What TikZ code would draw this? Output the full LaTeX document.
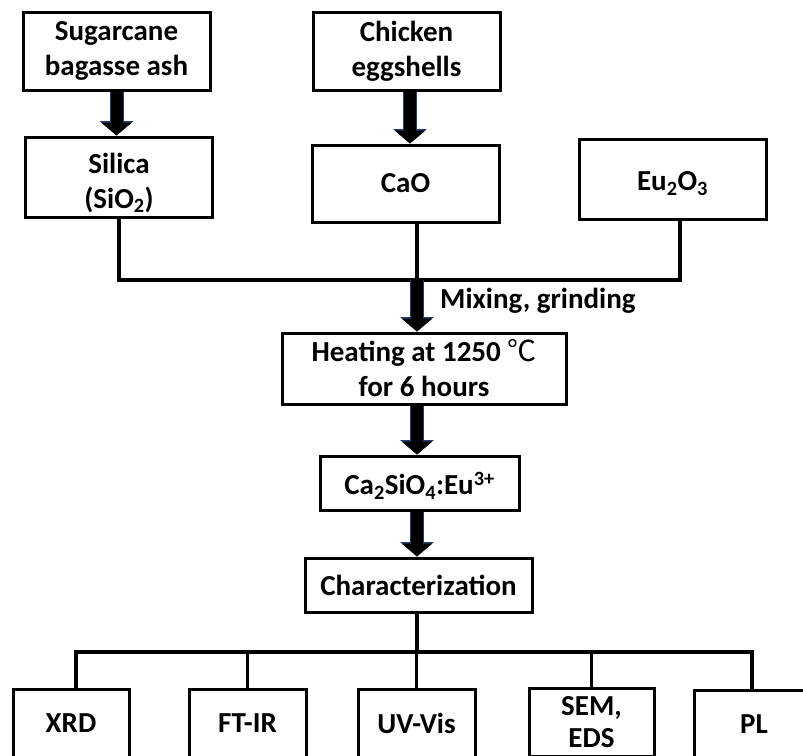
\documentclass[tikz,border=0pt]{standalone}
\usepackage{fontspec}
\setmainfont{Carlito}
\newfontfamily\cjk{Noto Sans CJK SC}
\usetikzlibrary{arrows.meta}
\definecolor{arrowedge}{RGB}{40,62,112}
\newcommand\topstrut[1]{\rule{0pt}{#1}}
\tikzset{
box/.style = {draw, line width = 3pt, align = center, inner sep = 0pt, font = \bfseries\fontsize{29}{35}\selectfont},
steptext/.style = {inner sep = 0pt, font = \bfseries\fontsize{29}{35}\selectfont},
bus/.style = {line width = 3.5pt},
fatarrow/.style = {line width = 12pt, -{Triangle[length=13pt,width=30pt]},
  preaction = {draw = arrowedge, line width = 14pt, -{Triangle[length=14.5pt,width=33pt]}}}}

\begin{document}
\begin{tikzpicture}[x=1pt, y=-1pt]
%
\clip (0,0) rectangle (803,755);
\fill[white] (0,0) rectangle (803,755);
%
%''''''''''''''''''''''''''''raw materials''''''''''''''''''''''''''''''''''''''''''''''''''''''''''''''
\node[box, minimum width=187pt, minimum height=78pt] (sugar) at (116.5,51) {Sugarcane\\bagasse ash};
\node[box, minimum width=187pt, minimum height=78pt] (chicken) at (406.5,51) {Chicken\\eggshells};
%
\node[box, minimum width=187pt, minimum height=80pt] (silica) at (119,177) {\topstrut{32pt}Silica\\(SiO\textsubscript{2})};
\node[box, minimum width=187pt, minimum height=77pt] (cao) at (405.5,183.5) {CaO};
\node[box, minimum width=187pt, minimum height=80pt] (eu) at (672.5,179.5) {\topstrut{27pt}Eu\textsubscript{2}O\textsubscript{3}};
%
\draw[fatarrow] (sugar.south) -- (sugar.south |- silica.north);
\draw[fatarrow] ([xshift=3.5pt]chicken.south) -- ([xshift=3.5pt]chicken.south |- cao.north);
%
% collecting line
\coordinate (mix) at (417,280);
\draw[bus] (silica.south) -- (silica.south |- mix) -- ([xshift=7.5pt]eu.south |- mix) -- ([xshift=7.5pt]eu.south);
\draw[bus] (mix |- cao.south) -- (mix);
%
%''''''''''''''''''''''''''''synthesis''''''''''''''''''''''''''''''''''''''''''''''''''''''''''''''''''
\node[box, minimum width=284pt, minimum height=71pt] (heat) at (424,368.5) {Heating at 1250 {\cjk\mdseries ℃}\\for 6 hours};
\node[box, minimum width=199pt, minimum height=54pt] (prod) at (419.5,483) {\topstrut{28pt}Ca\textsubscript{2}SiO\textsubscript{4}:Eu\textsuperscript{3+}};
\node[box, minimum width=227pt, minimum height=54pt] (char) at (418.5,585) {Characterization};
%
\draw[fatarrow] (mix) -- (mix |- heat.north);
\node[steptext, anchor=west] (mixing) at (440,301) {Mixing, grinding};
\draw[fatarrow] (mix |- heat.south) -- (mix |- prod.north);
\draw[fatarrow] (mix |- prod.south) -- (mix |- char.north);
%
%''''''''''''''''''''''''''''characterization methods'''''''''''''''''''''''''''''''''''''''''''''''''''
\coordinate (split) at (417,652);
\node[box, minimum width=116pt, minimum height=68pt] (xrd) at (71,723) {XRD};
\node[box, minimum width=117pt, minimum height=68pt] (ftir) at (247.5,723) {FT-IR};
\node[box, minimum width=117pt, minimum height=68pt] (uvvis) at (416.5,723) {UV-Vis};
\node[box, minimum width=125pt, minimum height=68pt, font=\bfseries\fontsize{29}{32}\selectfont] (sem) at (591.5,722) {SEM,\\EDS};
\node[box, minimum width=120pt, minimum height=68pt] (pl) at (754,724) {PL};
%
\draw[bus] (mix |- char.south) -- (split);
\draw[bus] ([xshift=5pt]xrd.north) |- (split) -| ([xshift=-2pt]pl.north);
\foreach \n in {ftir,uvvis,sem}
  \draw[bus] (\n.north) -- (\n.north |- split);
%
\end{tikzpicture}
\end{document}
